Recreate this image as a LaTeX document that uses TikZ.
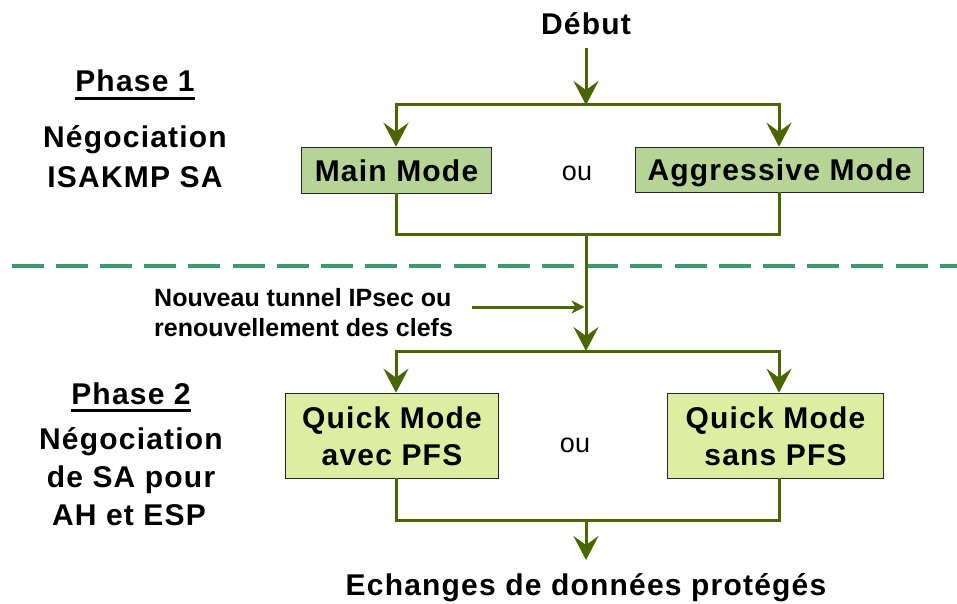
\documentclass[tikz,border=0pt]{standalone}
\usepackage{fontspec}
\setmainfont{Liberation Sans}
\newfontfamily\fb[LetterSpace=4]{Liberation Sans}
\usetikzlibrary{arrows.meta}
\definecolor{lg}{RGB}{74,102,0}
\definecolor{fone}{RGB}{181,212,150}
\definecolor{ftwo}{RGB}{221,238,162}
\definecolor{dg}{RGB}{58,156,108}
\begin{document}
\begin{tikzpicture}[x=1pt,y=-1pt,
  conn/.style={draw=lg, line width=3pt, line cap=rect},
  arr/.style={conn, -{Stealth[length=24pt,width=25pt,inset=9pt]}},
  sarr/.style={conn, -{Stealth[length=13pt,width=13pt,inset=4pt]}},
  box/.style={draw=black!85, line width=1.6pt, inner sep=0pt, align=center,
    font=\fb\bfseries\fontsize{30}{37}\selectfont},
  big/.style={inner sep=0pt, anchor=base, font=\fb\bfseries\fontsize{30}{38}\selectfont},
  small/.style={inner sep=0pt, anchor=base west, font=\bfseries\fontsize{25}{30}\selectfont},
  oustyle/.style={inner sep=0pt, font=\fontsize{27}{30}\selectfont},
  uline/.style={line width=3pt, draw=black}
]
\useasboundingbox (0,0) rectangle (957,604);

% dashed separator
\coordinate (dl) at (11.5,266);
\coordinate (dr) at (957,266);
\draw[dg, line width=4pt, dash pattern=on 32pt off 12.2pt] (dl) -- (dr);

% boxes
\node[box, fill=fone, minimum width=190pt, minimum height=46pt, text depth=0pt] (mm) at (396.5,170.5) {Main Mode};
\node[box, fill=fone, minimum width=288pt, minimum height=45pt, text depth=0pt] (ag) at (779.5,170) {Aggressive Mode};
\node[box, fill=ftwo, minimum width=213pt, minimum height=85pt] (qa) at (392,436) {Quick Mode\\avec PFS};
\node[box, fill=ftwo, minimum width=216pt, minimum height=85pt] (qs) at (775.5,436) {Quick Mode\\sans PFS};

\node[oustyle] (ou1) at (577,173) {ou};
\node[oustyle] (ou2) at (575,445) {ou};

% texts
\node[big] (debut) at (586,35) {Début};
\node[big] (ech) at (586,595) {Echanges de données protégés};

\node[big] (ph1) at (135,92) {Phase 1};
\node[big] (n1a) at (135,148) {Négociation};
\node[big] (n1b) at (135,187) {ISAKMP SA};
\draw[uline] ([yshift=-6.5pt]ph1.base west) -- ([yshift=-6.5pt]ph1.base east);

\node[big] (ph2) at (131,404) {Phase 2};
\node[big] (n2a) at (131,449) {Négociation};
\node[big] (n2b) at (131,487) {de SA pour};
\node[big] (n2c) at (129,525) {AH et ESP};
\draw[uline] ([yshift=-6.5pt]ph2.base west) -- ([yshift=-6.5pt]ph2.base east);

\node[small] (nv1) at (154,306) {Nouveau tunnel IPsec ou};
\node[small] (nv2) at (154,336) {renouvellement des clefs};

% coordinates
\coordinate (xl) at (396,0);
\coordinate (xr) at (779,0);
\coordinate (d0) at (586,50);
\coordinate (s1) at (586,105);
\coordinate (j1) at (586,234);
\coordinate (s2) at (586,351);
\coordinate (j2) at (586,520);
\coordinate (e0) at (586,560);
\coordinate (n0) at (473,307);
\coordinate (n1) at (584.5,307);

% phase 1 connectors
\draw[conn] (xl |- s1) -- (xr |- s1);
\draw[arr] (d0) -- (s1);
\draw[arr] (xl |- s1) -- (xl |- mm.north);
\draw[arr] (xr |- s1) -- (xr |- ag.north);
\draw[conn] (xl |- mm.south) -- (xl |- j1) -- (xr |- j1) -- (xr |- ag.south);

% middle
\draw[arr] (j1) -- (s2);
\draw[sarr] (n0) -- (n1);

% phase 2 connectors
\draw[conn] (xl |- s2) -- (xr |- s2);
\draw[arr] (xl |- s2) -- (xl |- qa.north);
\draw[arr] (xr |- s2) -- (xr |- qs.north);
\draw[conn] (xl |- qa.south) -- (xl |- j2) -- (xr |- j2) -- (xr |- qs.south);
\draw[arr] (j2) -- (e0);
\end{tikzpicture}
\end{document}
